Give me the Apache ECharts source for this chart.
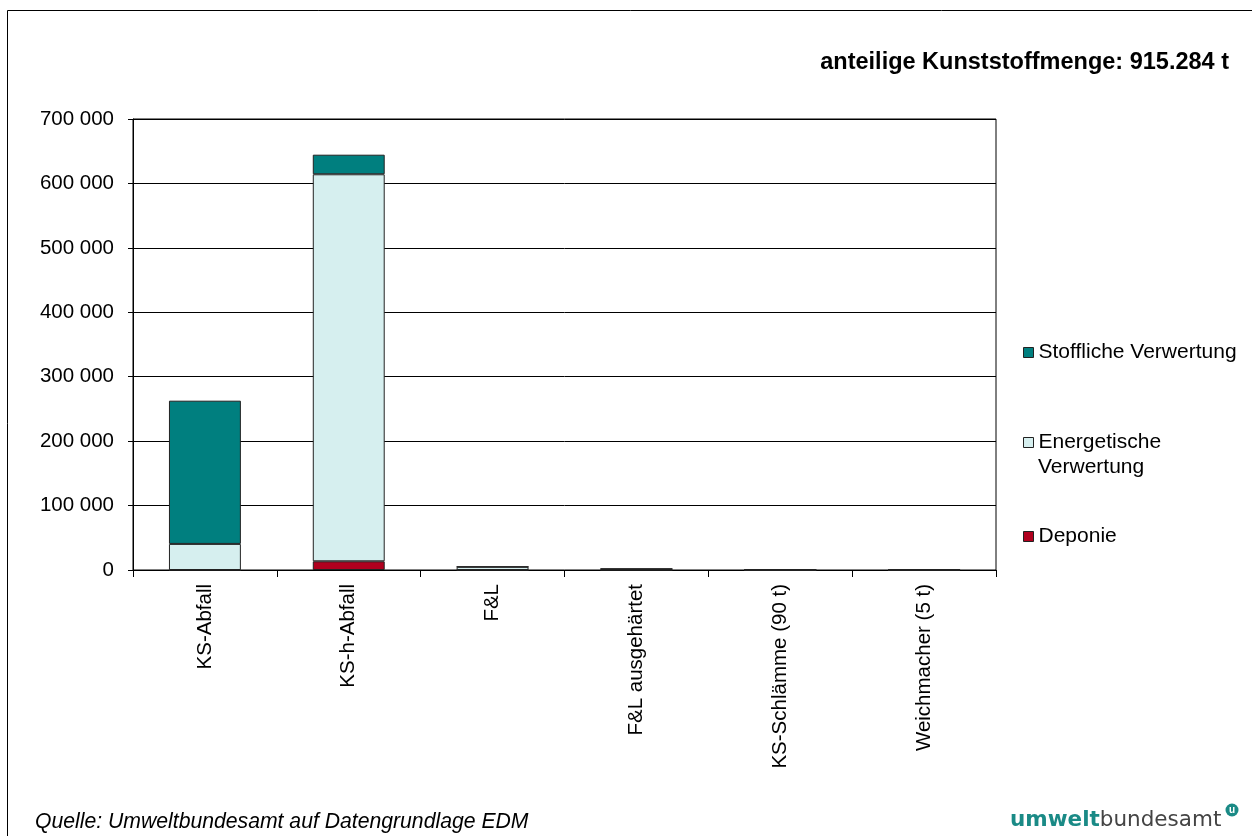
<!DOCTYPE html>
<html>
<head>
<meta charset="utf-8">
<style>
  html, body { margin: 0; padding: 0; background: #ffffff; }
  #chart { width: 1252px; height: 836px; }
</style>
<script src="https://cdn.jsdelivr.net/npm/echarts@6/dist/echarts.min.js"></script>
</head>
<body>
<div id="chart"></div>
<script>
// Plastic waste quantities by waste type and treatment path (t)
const categories = ['KS-Abfall', 'KS-h-Abfall', 'F&L', 'F&L ausgehärtet', 'KS-Schlämme (90 t)', 'Weichmacher (5 t)'];
const deponie      = [0, 13500, 0, 0, 0, 0];
const energetische = [40500, 600700, 5000, 1800, 90, 5];
const stoffliche   = [222300, 30400, 0, 0, 0, 0];
const yTicks = [0, 100000, 200000, 300000, 400000, 500000, 600000, 700000];

const FONT = '"Liberation Sans", Arial, sans-serif';
const LOGO_FONT = '"DejaVu Sans", ' + FONT;
const barBorder = { borderColor: '#222222', borderWidth: 1 };

const chart = echarts.init(document.getElementById('chart'), null, { renderer: 'canvas' });

function legendAt(name, top, label) {
  return {
    left: 1023,
    top: top,
    padding: 0,
    orient: 'vertical',
    data: [name],
    icon: 'rect',
    itemWidth: 10,
    itemHeight: 10,
    itemGap: 0,
    selectedMode: false,
    formatter: () => label,
    itemStyle: { borderColor: '#222222', borderWidth: 1 },
    textStyle: { fontFamily: FONT, fontSize: 21, color: '#000', lineHeight: 25 }
  };
}

chart.setOption({
  animation: false,
  backgroundColor: '#ffffff',
  grid: {
    left: 133, top: 119, width: 863, height: 451,
    show: true, borderColor: '#000000', borderWidth: 1, backgroundColor: 'transparent'
  },
  legend: [
    legendAt('Stoffliche Verwertung', 340, 'Stoffliche Verwertung'),
    legendAt('Energetische Verwertung', 430, 'Energetische'),
    legendAt('Deponie', 524, 'Deponie')
  ],
  xAxis: {
    type: 'category',
    data: categories,
    boundaryGap: true,
    axisLine: { show: true, lineStyle: { color: '#000', width: 1 } },
    axisTick: { show: true, length: 7, lineStyle: { color: '#000' } },
    axisLabel: { rotate: 90, margin: 14, fontFamily: FONT, fontSize: 20.5, color: '#000', interval: 0 },
    splitLine: { show: false }
  },
  yAxis: {
    type: 'value',
    min: yTicks[0],
    max: yTicks[yTicks.length - 1],
    interval: yTicks[1] - yTicks[0],
    axisLine: { show: true, lineStyle: { color: '#000', width: 1 } },
    axisTick: { show: true, length: 5, lineStyle: { color: '#000' } },
    axisLabel: {
      margin: 19, fontFamily: FONT, fontSize: 20.5, color: '#000',
      formatter: v => String(v).replace(/\B(?=(\d{3})+(?!\d))/g, ' ')
    },
    splitLine: { show: true, lineStyle: { color: '#000', width: 1 } }
  },
  series: [
    { name: 'Deponie', type: 'bar', stack: 'total', barWidth: '50%', data: deponie,
      itemStyle: Object.assign({ color: '#B0001E' }, barBorder) },
    { name: 'Energetische Verwertung', type: 'bar', stack: 'total', barWidth: '50%', data: energetische,
      itemStyle: Object.assign({ color: '#D6EFEF' }, barBorder) },
    { name: 'Stoffliche Verwertung', type: 'bar', stack: 'total', barWidth: '50%', data: stoffliche,
      itemStyle: Object.assign({ color: '#007F7F' }, barBorder) }
  ],
  graphic: [
    { type: 'rect', shape: { x: 7.5, y: 10.5, width: 1260, height: 840 }, silent: true,
      style: { fill: 'none', stroke: '#000', lineWidth: 1 } },
    // second line of the "Energetische Verwertung" legend entry
    { type: 'text', left: 1038, top: 457,
      style: { text: 'Verwertung', font: '21px ' + FONT, fill: '#000' } },
    { type: 'text', right: 23, top: 51,
      style: { text: 'anteilige Kunststoffmenge: 915.284 t', font: 'bold 23.5px ' + FONT, fill: '#000' } },
    { type: 'text', left: 35, top: 812,
      style: { text: 'Quelle: Umweltbundesamt auf Datengrundlage EDM', font: 'italic 21.2px ' + FONT, fill: '#000' } },
    { type: 'text', left: 1010, top: 809,
      style: {
        text: '{a|umwelt}{b|bundesamt}',
        rich: {
          a: { fontFamily: LOGO_FONT, fontWeight: 'bold', fontSize: 21.5, fill: '#1A8A86' },
          b: { fontFamily: LOGO_FONT, fontWeight: 'normal', fontSize: 21.5, fill: '#444444' }
        }
      } },
    { type: 'circle', shape: { cx: 1232, cy: 810, r: 6.5 }, style: { fill: '#1A8A86' } },
    { type: 'text', x: 1232, y: 810,
      style: { text: 'u', font: 'bold 10px ' + FONT, fill: '#fff', align: 'center', verticalAlign: 'middle' } }
  ]
});
</script>
</body>
</html>
